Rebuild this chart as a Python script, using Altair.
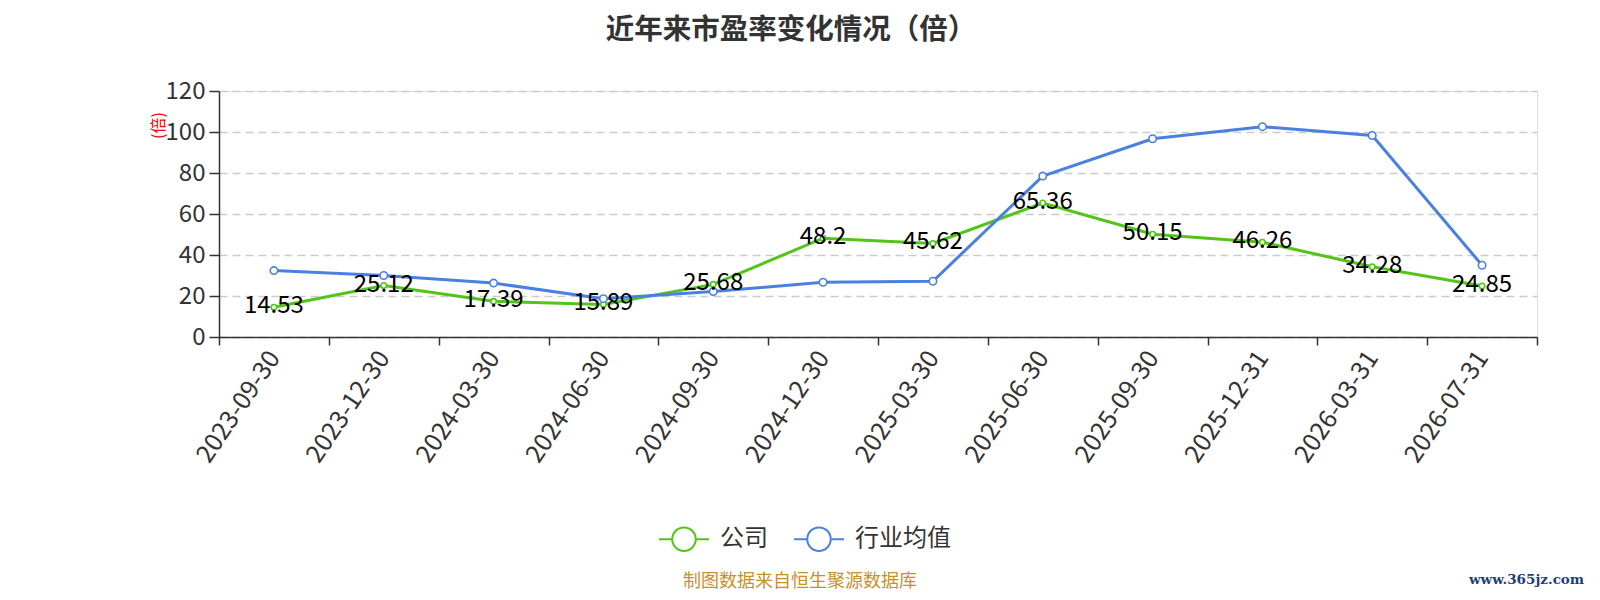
import altair as alt
import pandas as pd

dates = ["2023-09-30", "2023-12-30", "2024-03-30", "2024-06-30", "2024-09-30", "2024-12-30",
         "2025-03-30", "2025-06-30", "2025-09-30", "2025-12-31", "2026-03-31", "2026-07-31"]
company = [14.53, 25.12, 17.39, 15.89, 25.68, 48.2, 45.62, 65.36, 50.15, 46.26, 34.28, 24.85]
industry = [32.4, 30.0, 26.3, 18.7, 22.2, 26.7, 27.2, 78.5, 96.7, 102.6, 98.3, 35.0]
series_names = ["公司", "行业均值"]
series_colors = ["#52c41a", "#4a80e0"]

rows = []
for d, c, i in zip(dates, company, industry):
    rows.append({"date": d, "series": "公司", "value": c})
    rows.append({"date": d, "series": "行业均值", "value": i})
df = pd.DataFrame(rows)

FONT = "Noto Sans CJK SC"
W, H = 1318, 246

legend_path = ("M-1,0L-0.47,0M0.47,0L1,0"
               "M-0.47,0A0.47,0.47,0,1,1,0.47,0A0.47,0.47,0,1,1,-0.47,0")

color_scale = alt.Scale(domain=series_names, range=series_colors)

x_enc = alt.X(
    "date:N", sort=dates, bandPosition=0.5,
    scale=alt.Scale(type="band", paddingInner=0, paddingOuter=0),
    axis=alt.Axis(
        title=None, tickBand="extent", labelAngle=-56, labelAlign="right",
        labelBaseline="middle", labelFontSize=25, labelColor="#333333", labelFont=FONT,
        labelPadding=8, tickSize=8, tickColor="#333333", tickWidth=1.5,
        domainColor="#333333", domainWidth=1.5, grid=False,
    ),
)
y_enc = alt.Y(
    "value:Q",
    scale=alt.Scale(domain=[0, 120], nice=False),
    axis=alt.Axis(
        values=[0, 20, 40, 60, 80, 100, 120], title="(倍)", titleColor="#ff0000",
        titleFontSize=16, titleFontWeight="normal", titleFont=FONT, titleAngle=270,
        titleX=-61, titleY=34, titleAlign="center", titleBaseline="middle",
        labelFontSize=24, labelColor="#333333", labelFont=FONT, labelPadding=4,
        tickSize=10, tickColor="#333333", tickWidth=1.5,
        domainColor="#333333", domainWidth=1.5,
        grid=True, gridColor="#cccccc", gridDash=[8, 5], gridWidth=1.5,
    ),
)

base = alt.Chart(df)

lines = base.mark_line(strokeWidth=3).encode(
    x=x_enc, y=y_enc,
    color=alt.Color(
        "series:N", scale=color_scale, sort=series_names,
        legend=alt.Legend(
            title=None, orient="none", direction="horizontal", legendX=439, legendY=422,
            symbolType=legend_path, symbolSize=2500, symbolStrokeWidth=2,
            symbolFillColor="white", labelFontSize=24, labelColor="#333333", labelFont=FONT,
            labelOffset=10, columnPadding=22, padding=0,
        ),
    ),
)

points = base.mark_point(filled=True, fill="white", strokeWidth=1.6, opacity=1).encode(
    x=x_enc, y=y_enc,
    stroke=alt.Stroke("series:N", scale=color_scale, legend=None),
    size=alt.Size("series:N", scale=alt.Scale(domain=series_names, range=[30, 55]), legend=None),
)

labels = base.transform_filter(alt.datum.series == "公司").mark_text(
    fontSize=24, font=FONT, color="#000000", baseline="middle", align="center", dy=-1
).encode(x=x_enc, y=y_enc, text=alt.Text("value:Q"))

one = alt.Data(values=[{}])
title = alt.Chart(one).mark_text(
    text="近年来市盈率变化情况（倍）", fontSize=28.5, fontWeight="bold", font=FONT,
    color="#333333", align="center", baseline="middle"
).encode(x=alt.value(572), y=alt.value(-61))

footer = alt.Chart(one).mark_text(
    text="制图数据来自恒生聚源数据库", fontSize=18, font=FONT, color="#c8902a",
    align="center", baseline="middle"
).encode(x=alt.value(581), y=alt.value(491))

watermark = alt.Chart(one).mark_text(
    text="www.365jz.com", fontSize=13.5, font="DejaVu Serif", fontWeight="bold",
    color="#1c3f7a", align="left", baseline="middle"
).encode(x=alt.value(1250), y=alt.value(489))

chart = alt.layer(lines, points, labels, title, footer, watermark).resolve_scale(
    color="independent", stroke="independent"
).properties(
    width=W, height=H,
    autosize=alt.AutoSizeParams(type="none"),
    padding={"left": 211, "top": 83, "right": 55, "bottom": 255},
).configure_view(stroke=None).configure(font=FONT)

chart.save("out.html", embed_options={"renderer": "svg", "actions": False})
